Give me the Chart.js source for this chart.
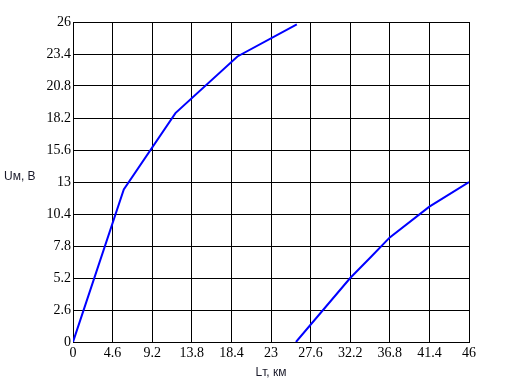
<!DOCTYPE html>
<html>
<head>
<meta charset="utf-8">
<script src="https://cdn.jsdelivr.net/npm/chart.js@4"></script>
<style>
  html, body { margin: 0; padding: 0; background: #fff; }
  #wrap { width: 505px; height: 389px; }
</style>
</head>
<body>
<div id="wrap"><canvas id="chart" width="505" height="389"></canvas></div>
<script>
// tick values (as printed on the axes)
var xTicks = [0, 4.6, 9.2, 13.8, 18.4, 23, 27.6, 32.2, 36.8, 41.4, 46];
var xTickLabels = ["0", "4.6", "9.2", "13.8", "18.4", "23", "27.6", "32.2", "36.8", "41.4", "46"];
var yTicks = [0, 2.6, 5.2, 7.8, 10.4, 13, 15.6, 18.2, 20.8, 23.4, 26];
var yTickLabels = ["0", "2.6", "5.2", "7.8", "10.4", "13", "15.6", "18.2", "20.8", "23.4", "26"];

// curve 1
var curve1X = [0, 5.9, 11.9, 19.1, 26.0];
var curve1Y = [0, 12.4, 18.6, 23.2, 25.8];

// curve 2
var curve2X = [25.9, 32.2, 34.6, 36.8, 41.4, 46];
var curve2Y = [0, 5.2, 6.9, 8.5, 11.0, 13.0];

var xTitle = "Lт, км";
var yTitle = "Uм, В";

function toPoints(xs, ys) {
	return xs.map(function (x, i) { return { x: x, y: ys[i] }; });
}

var titles = {
	id: "titles",
	afterDraw: function (chart) {
		var c = chart.ctx;
		c.save();
		c.fillStyle = "#1a1a2a";
		c.font = "12px 'Liberation Sans', Arial, sans-serif";
		c.textBaseline = "middle";
		c.textAlign = "left";
		c.fillText(yTitle, 4, 177);
		c.textAlign = "center";
		c.fillText(xTitle, 271, 373);
		c.restore();
	}
};

var ctx = document.getElementById("chart");

var chart = new Chart(ctx, {
	type: "line",
	data: {
		datasets: [
			{
				data: toPoints(curve1X, curve1Y),
				borderColor: "#0000ff",
				borderWidth: 2,
				pointRadius: 0,
				fill: false,
				tension: 0
			},
			{
				data: toPoints(curve2X, curve2Y),
				borderColor: "#0000ff",
				borderWidth: 2,
				pointRadius: 0,
				fill: false,
				tension: 0
			}
		]
	},
	options: {
		responsive: false,
		animation: false,
		layout: { padding: { top: 22, right: 36, left: 0, bottom: 0 } },
		plugins: {
			legend: { display: false },
			tooltip: { enabled: false }
		},
		scales: {
			x: {
				type: "linear",
				min: 0,
				max: 46,
				afterBuildTicks: function (scale) {
					scale.ticks = xTicks.map(function (v) { return { value: v }; });
				},
				afterFit: function (scale) { scale.height = 47; },
				grid: { color: "#000", lineWidth: 1, drawTicks: false },
				border: { color: "#000", width: 1 },
				ticks: {
					padding: 3,
					maxRotation: 0,
					autoSkip: false,
					color: "#000",
					font: { family: "'Liberation Serif', 'Times New Roman', serif", size: 14 },
					callback: function (v, i) { return xTickLabels[i]; }
				}
			},
			y: {
				type: "linear",
				min: 0,
				max: 26,
				afterBuildTicks: function (scale) {
					scale.ticks = yTicks.map(function (v) { return { value: v }; });
				},
				afterFit: function (scale) { scale.width = 73; },
				grid: { color: "#000", lineWidth: 1, drawTicks: false },
				border: { color: "#000", width: 1 },
				ticks: {
					padding: 2,
					autoSkip: false,
					color: "#000",
					font: { family: "'Liberation Serif', 'Times New Roman', serif", size: 14 },
					callback: function (v, i) { return yTickLabels[i]; }
				}
			}
		}
	},
	plugins: [titles]
});
</script>
</body>
</html>
